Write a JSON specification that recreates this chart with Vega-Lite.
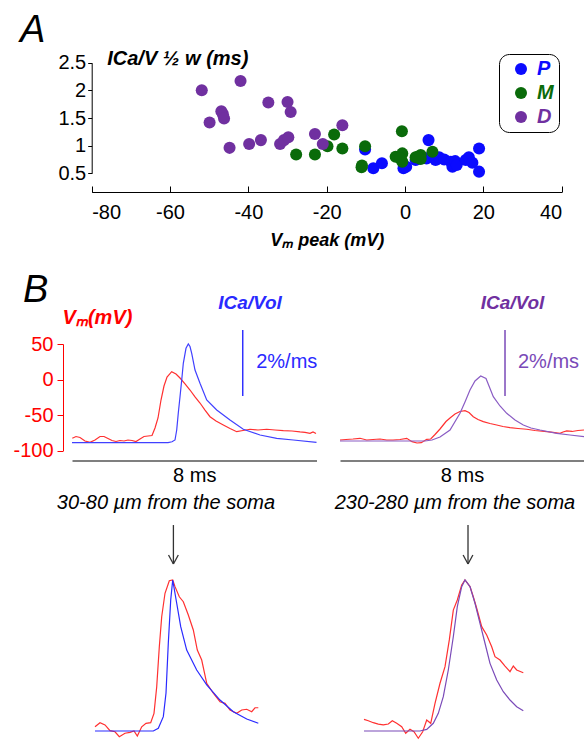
{
  "$schema": "https://vega.github.io/schema/vega-lite/v6.json",
  "background": "white",
  "width": 584,
  "height": 740,
  "autosize": {"type": "none"},
  "padding": 0,
  "config": {
    "font": "Liberation Sans",
    "view": {"stroke": null},
    "axis": {"grid": false, "labelFont": "Liberation Sans", "titleFont": "Liberation Sans", "labelFontSize": 20, "labelColor": "black", "domainColor": "black", "tickColor": "black"},
    "text": {"font": "Liberation Sans"},
    "legend": {"labelFont": "Liberation Sans"}
  },
  "datasets": {
    "scatter": [
      {"vm": -10.2, "w": 0.93, "region": "P"}, {"vm": -8.1, "w": 0.59, "region": "P"}, {"vm": -5.9, "w": 0.68, "region": "P"},
      {"vm": -0.4, "w": 0.59, "region": "P"}, {"vm": 0.3, "w": 0.62, "region": "P"}, {"vm": 2.7, "w": 0.74, "region": "P"},
      {"vm": 5.5, "w": 0.77, "region": "P"}, {"vm": 6.0, "w": 1.10, "region": "P"}, {"vm": 7.8, "w": 0.74, "region": "P"},
      {"vm": 8.7, "w": 0.79, "region": "P"}, {"vm": 10.0, "w": 0.75, "region": "P"}, {"vm": 11.7, "w": 0.71, "region": "P"},
      {"vm": 12.1, "w": 0.62, "region": "P"}, {"vm": 12.8, "w": 0.72, "region": "P"}, {"vm": 13.2, "w": 0.65, "region": "P"},
      {"vm": 15.5, "w": 0.74, "region": "P"}, {"vm": 16.3, "w": 0.79, "region": "P"}, {"vm": 17.2, "w": 0.69, "region": "P"},
      {"vm": 18.9, "w": 0.95, "region": "P"}, {"vm": 18.9, "w": 0.53, "region": "P"},
      {"vm": -27.8, "w": 0.84, "region": "M"}, {"vm": -23.0, "w": 0.84, "region": "M"}, {"vm": -19.8, "w": 0.99, "region": "M"},
      {"vm": -18.1, "w": 1.20, "region": "M"}, {"vm": -16.0, "w": 0.95, "region": "M"}, {"vm": -10.2, "w": 0.99, "region": "M"},
      {"vm": -11.1, "w": 0.61, "region": "M"}, {"vm": -11.0, "w": 0.64, "region": "M"}, {"vm": -0.8, "w": 1.26, "region": "M"},
      {"vm": -2.4, "w": 0.80, "region": "M"}, {"vm": -0.7, "w": 0.86, "region": "M"}, {"vm": -0.7, "w": 0.71, "region": "M"},
      {"vm": -1.2, "w": 0.77, "region": "M"}, {"vm": 2.7, "w": 0.79, "region": "M"}, {"vm": 4.0, "w": 0.83, "region": "M"},
      {"vm": 4.0, "w": 0.76, "region": "M"}, {"vm": 7.0, "w": 0.89, "region": "M"}, {"vm": 3.2, "w": 0.80, "region": "M"},
      {"vm": -51.9, "w": 2.00, "region": "D"}, {"vm": -42.0, "w": 2.17, "region": "D"}, {"vm": -49.9, "w": 1.42, "region": "D"},
      {"vm": -46.9, "w": 1.62, "region": "D"}, {"vm": -46.5, "w": 1.57, "region": "D"}, {"vm": -46.2, "w": 1.49, "region": "D"},
      {"vm": -44.8, "w": 0.96, "region": "D"}, {"vm": -39.8, "w": 1.03, "region": "D"}, {"vm": -36.8, "w": 1.10, "region": "D"},
      {"vm": -34.9, "w": 1.78, "region": "D"}, {"vm": -30.0, "w": 1.79, "region": "D"}, {"vm": -29.2, "w": 1.61, "region": "D"},
      {"vm": -31.9, "w": 1.03, "region": "D"}, {"vm": -30.9, "w": 1.10, "region": "D"}, {"vm": -29.8, "w": 1.15, "region": "D"},
      {"vm": -23.0, "w": 1.21, "region": "D"}, {"vm": -21.0, "w": 1.03, "region": "D"}, {"vm": -16.0, "w": 1.37, "region": "D"}
    ],
    "label_a": [{"vm": -98.3, "w": 2.874, "label": "A"}],
    "label_b": [{"t": -1.603, "v": 109.2, "label": "B"}],
    "vm_left": [
      {"t": 0.01, "v": -82.8}, {"t": 0.131, "v": -80.3}, {"t": 0.262, "v": -81.7}, {"t": 0.425, "v": -86.6}, {"t": 0.589, "v": -88.5},
      {"t": 0.753, "v": -85.2}, {"t": 0.916, "v": -80.3}, {"t": 1.047, "v": -80.3}, {"t": 1.178, "v": -83.1}, {"t": 1.309, "v": -85.9},
      {"t": 1.44, "v": -87.3}, {"t": 1.571, "v": -85.9}, {"t": 1.702, "v": -86.6}, {"t": 1.832, "v": -85.2}, {"t": 1.963, "v": -85.9},
      {"t": 2.094, "v": -87.3}, {"t": 2.225, "v": -83.8}, {"t": 2.356, "v": -80.3}, {"t": 2.487, "v": -79.6}, {"t": 2.618, "v": -78.9},
      {"t": 2.716, "v": -68.3}, {"t": 2.814, "v": -54.2}, {"t": 2.912, "v": -28.9}, {"t": 3.01, "v": -9.2}, {"t": 3.109, "v": 3.5},
      {"t": 3.262, "v": 11.0}, {"t": 3.403, "v": 7.7}, {"t": 3.534, "v": 2.1}, {"t": 3.698, "v": -6.3}, {"t": 3.861, "v": -14.8},
      {"t": 4.025, "v": -24.6}, {"t": 4.188, "v": -33.1}, {"t": 4.352, "v": -43.0}, {"t": 4.516, "v": -52.4}, {"t": 4.712, "v": -58.5},
      {"t": 4.951, "v": -64.1}, {"t": 5.17, "v": -69.0}, {"t": 5.389, "v": -73.5}, {"t": 5.596, "v": -71.8}, {"t": 5.825, "v": -70.1},
      {"t": 6.086, "v": -71.1}, {"t": 6.371, "v": -70.1}, {"t": 6.643, "v": -71.1}, {"t": 6.914, "v": -72.1}, {"t": 7.199, "v": -72.5},
      {"t": 7.461, "v": -73.9}, {"t": 7.624, "v": -74.6}, {"t": 7.788, "v": -75.8}, {"t": 7.886, "v": -73.9}, {"t": 7.984, "v": -76.1}
    ],
    "ica_left": [
      {"t": 0, "i": 0}, {"t": 3.141, "i": 0}, {"t": 3.272, "i": 0.027}, {"t": 3.37, "i": 0.082}, {"t": 3.426, "i": 0.385},
      {"t": 3.478, "i": 0.9}, {"t": 3.534, "i": 1.394}, {"t": 3.59, "i": 1.9}, {"t": 3.642, "i": 2.406}, {"t": 3.73, "i": 2.861},
      {"t": 3.806, "i": 2.991}, {"t": 3.861, "i": 2.915}, {"t": 3.917, "i": 2.709}, {"t": 4.025, "i": 2.203}, {"t": 4.188, "i": 1.8},
      {"t": 4.408, "i": 1.294}, {"t": 4.735, "i": 0.991}, {"t": 5.17, "i": 0.688}, {"t": 5.605, "i": 0.406}, {"t": 6.152, "i": 0.233},
      {"t": 6.698, "i": 0.133}, {"t": 7.242, "i": 0.082}, {"t": 8.0, "i": 0.012}
    ],
    "vm_right": [
      {"t": 0, "v": -85.2}, {"t": 0.197, "v": -84.5}, {"t": 0.426, "v": -83.8}, {"t": 0.656, "v": -82.8}, {"t": 0.875, "v": -85.2},
      {"t": 1.082, "v": -84.5}, {"t": 1.311, "v": -83.8}, {"t": 1.531, "v": -85.2}, {"t": 1.738, "v": -85.2}, {"t": 1.967, "v": -84.5},
      {"t": 2.187, "v": -82.8}, {"t": 2.361, "v": -87.6}, {"t": 2.525, "v": -89.4}, {"t": 2.666, "v": -89.0}, {"t": 2.843, "v": -84.2},
      {"t": 2.974, "v": -83.8}, {"t": 3.115, "v": -77.5}, {"t": 3.279, "v": -69.7}, {"t": 3.475, "v": -59.2}, {"t": 3.607, "v": -54.2},
      {"t": 3.77, "v": -48.6}, {"t": 3.934, "v": -45.1}, {"t": 4.098, "v": -43.9}, {"t": 4.23, "v": -46.5}, {"t": 4.37, "v": -52.4},
      {"t": 4.525, "v": -56.3}, {"t": 4.698, "v": -59.4}, {"t": 4.918, "v": -62.0}, {"t": 5.138, "v": -64.1}, {"t": 5.344, "v": -66.2},
      {"t": 5.574, "v": -67.9}, {"t": 5.836, "v": -69.0}, {"t": 6.121, "v": -70.1}, {"t": 6.393, "v": -71.8}, {"t": 6.777, "v": -73.5},
      {"t": 6.984, "v": -74.6}, {"t": 7.213, "v": -75.8}, {"t": 7.311, "v": -73.9}, {"t": 7.433, "v": -72.5}, {"t": 7.607, "v": -73.2},
      {"t": 7.803, "v": -71.8}, {"t": 8.0, "v": -71.1}
    ],
    "ica_right": [
      {"t": 0, "i": 0}, {"t": 2.787, "i": 0}, {"t": 3.016, "i": 0.03}, {"t": 3.279, "i": 0.121}, {"t": 3.607, "i": 0.333},
      {"t": 3.934, "i": 0.839}, {"t": 4.098, "i": 1.182}, {"t": 4.262, "i": 1.545}, {"t": 4.426, "i": 1.818}, {"t": 4.613, "i": 1.97},
      {"t": 4.787, "i": 1.894}, {"t": 5.026, "i": 1.342}, {"t": 5.246, "i": 1.061}, {"t": 5.466, "i": 0.839}, {"t": 5.738, "i": 0.636},
      {"t": 6.01, "i": 0.485}, {"t": 6.262, "i": 0.394}, {"t": 6.557, "i": 0.333}, {"t": 7.105, "i": 0.233}, {"t": 7.541, "i": 0.182},
      {"t": 8.0, "i": 0.13}
    ],
    "bar_left": [{"t": 5.586, "i": 1.415, "i2": 3.415}],
    "bar_right": [{"t": 5.41, "i": 1.364, "i2": 3.364}],
    "unit_left": [{"t": 7.026, "i": 2.455, "label": "2%/ms"}],
    "unit_right": [{"t": 5.836, "i": 2.403, "label": "2%/ms"}],
    "name_left": [{"t": 5.825, "i": 4.233, "label": "ICa/Vol"}],
    "name_right": [{"t": 5.656, "i": 4.18, "label": "ICa/Vol"}],
    "bl_vm": [
      {"t": 0.753, "n": 0.028}, {"t": 0.916, "n": 0.055}, {"t": 1.08, "n": 0.04}, {"t": 1.243, "n": 0.002}, {"t": 1.407, "n": -0.005},
      {"t": 1.548, "n": -0.038}, {"t": 1.734, "n": -0.015}, {"t": 1.898, "n": -0.009}, {"t": 2.029, "n": 0}, {"t": 2.137, "n": -0.033},
      {"t": 2.281, "n": 0.028}, {"t": 2.421, "n": 0.051}, {"t": 2.575, "n": 0.055}, {"t": 2.683, "n": 0.117}, {"t": 2.772, "n": 0.293},
      {"t": 2.857, "n": 0.558}, {"t": 2.935, "n": 0.757}, {"t": 3.043, "n": 0.912}, {"t": 3.184, "n": 0.995}, {"t": 3.295, "n": 1.0},
      {"t": 3.37, "n": 0.956}, {"t": 3.511, "n": 0.889}, {"t": 3.642, "n": 0.856}, {"t": 3.806, "n": 0.768}, {"t": 3.969, "n": 0.669},
      {"t": 4.1, "n": 0.536}, {"t": 4.244, "n": 0.47}, {"t": 4.408, "n": 0.316}, {"t": 4.624, "n": 0.25}, {"t": 4.843, "n": 0.194},
      {"t": 5.007, "n": 0.183}, {"t": 5.17, "n": 0.139}, {"t": 5.389, "n": 0.117}, {"t": 5.553, "n": 0.139}, {"t": 5.717, "n": 0.144},
      {"t": 5.88, "n": 0.128}, {"t": 5.988, "n": 0.154}, {"t": 6.096, "n": 0.154}
    ],
    "bl_ica": [
      {"t": 0.753, "n": 0}, {"t": 2.66, "n": 0}, {"t": 2.824, "n": 0.018}, {"t": 2.988, "n": 0.095}, {"t": 3.076, "n": 0.252},
      {"t": 3.151, "n": 0.581}, {"t": 3.23, "n": 0.868}, {"t": 3.295, "n": 1.0}, {"t": 3.426, "n": 0.846}, {"t": 3.557, "n": 0.691},
      {"t": 3.753, "n": 0.536}, {"t": 4.08, "n": 0.404}, {"t": 4.408, "n": 0.305}, {"t": 4.843, "n": 0.205}, {"t": 5.278, "n": 0.128},
      {"t": 5.717, "n": 0.079}, {"t": 6.096, "n": 0.051}
    ],
    "br_vm": [
      {"t": 0.787, "n": 0.077}, {"t": 0.928, "n": 0.068}, {"t": 1.092, "n": 0.055}, {"t": 1.256, "n": 0.046}, {"t": 1.42, "n": 0.04},
      {"t": 1.584, "n": 0.046}, {"t": 1.715, "n": 0.068}, {"t": 1.859, "n": 0.051}, {"t": 2.023, "n": 0.028}, {"t": 2.154, "n": -0.015},
      {"t": 2.295, "n": 0.011}, {"t": 2.426, "n": -0.005}, {"t": 2.567, "n": -0.048}, {"t": 2.711, "n": -0.005}, {"t": 2.843, "n": 0.073},
      {"t": 2.974, "n": 0.051}, {"t": 3.115, "n": 0.183}, {"t": 3.279, "n": 0.316}, {"t": 3.443, "n": 0.426}, {"t": 3.584, "n": 0.603},
      {"t": 3.715, "n": 0.801}, {"t": 3.846, "n": 0.868}, {"t": 3.99, "n": 0.967}, {"t": 4.098, "n": 1.0}, {"t": 4.262, "n": 0.956},
      {"t": 4.37, "n": 0.889}, {"t": 4.482, "n": 0.813}, {"t": 4.646, "n": 0.691}, {"t": 4.81, "n": 0.636}, {"t": 4.974, "n": 0.558},
      {"t": 5.082, "n": 0.492}, {"t": 5.246, "n": 0.47}, {"t": 5.41, "n": 0.43}, {"t": 5.574, "n": 0.393}, {"t": 5.682, "n": 0.43},
      {"t": 5.793, "n": 0.404}, {"t": 6.01, "n": 0.386}
    ],
    "br_ica": [
      {"t": 0.787, "n": 0}, {"t": 2.623, "n": 0}, {"t": 2.843, "n": 0.011}, {"t": 3.059, "n": 0.051}, {"t": 3.223, "n": 0.117},
      {"t": 3.387, "n": 0.227}, {"t": 3.551, "n": 0.404}, {"t": 3.715, "n": 0.624}, {"t": 3.846, "n": 0.823}, {"t": 3.99, "n": 0.956},
      {"t": 4.098, "n": 1.0}, {"t": 4.262, "n": 0.956}, {"t": 4.426, "n": 0.846}, {"t": 4.59, "n": 0.713}, {"t": 4.754, "n": 0.581},
      {"t": 4.918, "n": 0.448}, {"t": 5.138, "n": 0.338}, {"t": 5.354, "n": 0.26}, {"t": 5.574, "n": 0.205}, {"t": 5.793, "n": 0.161},
      {"t": 6.01, "n": 0.134}
    ],
    "arrow_left": [
      {"t": 3.318, "t2": 3.318, "n": 1.364, "n2": 1.106},
      {"t": 3.158, "t2": 3.318, "n": 1.166, "n2": 1.106},
      {"t": 3.478, "t2": 3.318, "n": 1.166, "n2": 1.106}
    ],
    "arrow_right": [
      {"t": 4.197, "t2": 4.197, "n": 1.364, "n2": 1.106},
      {"t": 4.037, "t2": 4.197, "n": 1.166, "n2": 1.106},
      {"t": 4.357, "t2": 4.197, "n": 1.166, "n2": 1.106}
    ],
    "soma_left": [{"t": 3.076, "n": 1.47, "label": "30-80 µm from the soma"}],
    "soma_right": [{"t": 3.77, "n": 1.47, "label": "230-280 µm from the soma"}]
  },
  "layer": [
    {
      "data": {"name": "scatter"},
      "mark": {"type": "point", "filled": true, "size": 145, "opacity": 1},
      "encoding": {
        "x": {
          "field": "vm", "type": "quantitative",
          "scale": {"domain": [-80, 40], "range": [91.7, 561.7], "nice": false, "zero": false},
          "axis": {"orient": "bottom", "offset": -548, "values": [-80, -60, -40, -20, 0, 20, 40], "labelExpr": "'' + datum.value",
                   "tickSize": -6, "labelPadding": 16,
                   "title": "Vₘ peak (mV)", "titleFontSize": 18, "titleFontStyle": "italic", "titleFontWeight": "bold", "titlePadding": 9}
        },
        "y": {
          "field": "w", "type": "quantitative",
          "scale": {"domain": [0.5, 2.5], "range": [173.3, 62.7], "nice": false, "zero": false},
          "axis": {"orient": "left", "offset": -91.7, "values": [0.5, 1, 1.5, 2, 2.5], "labelExpr": "'' + datum.value", "tickSize": 4, "labelPadding": 2,
                   "title": "ICa/V ½ w (ms)", "titleAngle": 0, "titleAlign": "left", "titleBaseline": "alphabetic", "titleX": 15, "titleY": 64.5,
                   "titleFontSize": 20, "titleFontStyle": "italic", "titleFontWeight": "bold"}
        },
        "color": {
          "field": "region", "type": "nominal",
          "scale": {"domain": ["P", "M", "D"], "range": ["#0b0bff", "#0a6b0a", "#7030a0"]},
          "legend": {"orient": "none", "legendX": 499, "legendY": 54, "title": null, "strokeColor": "black", "cornerRadius": 10,
                     "fillColor": "white", "padding": 5, "symbolOffset": 7, "symbolSize": 145, "symbolType": "circle", "rowPadding": 4,
                     "labelFontSize": 20, "labelFontWeight": "bold", "labelFontStyle": "italic", "labelOffset": 6,
                     "labelExpr": "datum.label + '   '",
                     "labelColor": {"expr": "datum.value === 'P' ? '#0b0bff' : datum.value === 'M' ? '#0a6b0a' : '#7030a0'"}}
        }
      }
    },
    {
      "data": {"name": "label_a"},
      "mark": {"type": "text", "fontSize": 38, "fontStyle": "italic", "align": "left", "baseline": "alphabetic", "color": "black"},
      "encoding": {
        "x": {"field": "vm", "type": "quantitative", "scale": {"domain": [-80, 40], "range": [91.7, 561.7], "nice": false, "zero": false}, "axis": null},
        "y": {"field": "w", "type": "quantitative", "scale": {"domain": [0.5, 2.5], "range": [173.3, 62.7], "nice": false, "zero": false}, "axis": null},
        "text": {"field": "label"}
      }
    },
    {
      "data": {"name": "vm_left"},
      "mark": {"type": "line", "color": "#ff3030", "strokeWidth": 1.2},
      "encoding": {
        "x": {"field": "t", "type": "quantitative", "scale": {"domain": [0, 8], "range": [72, 316.5], "nice": false, "zero": false},
              "axis": {"orient": "bottom", "offset": -279.5, "domainColor": "#555555", "domainWidth": 1.5, "ticks": false, "labels": false,
                       "title": "8 ms", "titleFontSize": 20, "titleFontWeight": "normal", "titlePadding": 5}},
        "y": {"field": "v", "type": "quantitative", "scale": {"domain": [-100, 50], "range": [450.5, 344], "nice": false, "zero": false},
              "axis": {"orient": "left", "offset": -63, "values": [-100, -50, 0, 50], "labelExpr": "'' + datum.value", "tickSize": 6, "labelPadding": 4,
                       "labelColor": "#ff0000", "tickColor": "#ff0000", "domainColor": "#ff0000",
                       "title": "Vₘ(mV)", "titleColor": "#ff0000", "titleAngle": 0, "titleAlign": "center", "titleBaseline": "alphabetic",
                       "titleX": 34, "titleY": 323, "titleFontSize": 20, "titleFontStyle": "italic", "titleFontWeight": "bold"}}
      }
    },
    {
      "data": {"name": "label_b"},
      "mark": {"type": "text", "fontSize": 38, "fontStyle": "italic", "align": "left", "baseline": "alphabetic", "color": "black"},
      "encoding": {
        "x": {"field": "t", "type": "quantitative", "scale": {"domain": [0, 8], "range": [72, 316.5], "nice": false, "zero": false}, "axis": null},
        "y": {"field": "v", "type": "quantitative", "scale": {"domain": [-100, 50], "range": [450.5, 344], "nice": false, "zero": false}, "axis": null},
        "text": {"field": "label"}
      }
    },
    {
      "layer": [
        {
          "data": {"name": "ica_left"},
          "mark": {"type": "line", "color": "#4040ff", "strokeWidth": 1.2},
          "encoding": {
            "x": {"field": "t", "type": "quantitative", "scale": {"domain": [0, 8], "range": [72, 316.5], "nice": false, "zero": false}, "axis": null},
            "y": {"field": "i", "type": "quantitative", "scale": {"domain": [0, 3], "range": [442.7, 343.7], "nice": false, "zero": false}, "axis": null}
          }
        },
        {
          "data": {"name": "bar_left"},
          "mark": {"type": "rule", "color": "#3030ff", "strokeWidth": 1.5},
          "encoding": {
            "x": {"field": "t", "type": "quantitative", "axis": null},
            "y": {"field": "i", "type": "quantitative", "axis": null},
            "y2": {"field": "i2"}
          }
        },
        {
          "data": {"name": "unit_left"},
          "mark": {"type": "text", "color": "#2a2aff", "fontSize": 20, "align": "center", "baseline": "middle"},
          "encoding": {
            "x": {"field": "t", "type": "quantitative", "axis": null},
            "y": {"field": "i", "type": "quantitative", "axis": null},
            "text": {"field": "label"}
          }
        },
        {
          "data": {"name": "name_left"},
          "mark": {"type": "text", "color": "#2a2aff", "fontSize": 19, "fontStyle": "italic", "fontWeight": "bold", "align": "center", "baseline": "middle"},
          "encoding": {
            "x": {"field": "t", "type": "quantitative", "axis": null},
            "y": {"field": "i", "type": "quantitative", "axis": null},
            "text": {"field": "label"}
          }
        }
      ]
    },
    {
      "data": {"name": "vm_right"},
      "mark": {"type": "line", "color": "#ff3030", "strokeWidth": 1.2},
      "encoding": {
        "x": {"field": "t", "type": "quantitative", "scale": {"domain": [0, 8], "range": [340, 584], "nice": false, "zero": false},
              "axis": {"orient": "bottom", "offset": -279.5, "domainColor": "#555555", "domainWidth": 1.5, "ticks": false, "labels": false,
                       "title": "8 ms", "titleFontSize": 20, "titleFontWeight": "normal", "titlePadding": 5}},
        "y": {"field": "v", "type": "quantitative", "scale": {"domain": [-100, 50], "range": [450.5, 344], "nice": false, "zero": false}, "axis": null}
      }
    },
    {
      "layer": [
        {
          "data": {"name": "ica_right"},
          "mark": {"type": "line", "color": "#8a5cc4", "strokeWidth": 1.2},
          "encoding": {
            "x": {"field": "t", "type": "quantitative", "scale": {"domain": [0, 8], "range": [340, 584], "nice": false, "zero": false}, "axis": null},
            "y": {"field": "i", "type": "quantitative", "scale": {"domain": [0, 3], "range": [441, 342], "nice": false, "zero": false}, "axis": null}
          }
        },
        {
          "data": {"name": "bar_right"},
          "mark": {"type": "rule", "color": "#7a4ab8", "strokeWidth": 1.5},
          "encoding": {
            "x": {"field": "t", "type": "quantitative", "axis": null},
            "y": {"field": "i", "type": "quantitative", "axis": null},
            "y2": {"field": "i2"}
          }
        },
        {
          "data": {"name": "unit_right"},
          "mark": {"type": "text", "color": "#7a4ab8", "fontSize": 20, "align": "left", "baseline": "middle"},
          "encoding": {
            "x": {"field": "t", "type": "quantitative", "axis": null},
            "y": {"field": "i", "type": "quantitative", "axis": null},
            "text": {"field": "label"}
          }
        },
        {
          "data": {"name": "name_right"},
          "mark": {"type": "text", "color": "#7030a0", "fontSize": 19, "fontStyle": "italic", "fontWeight": "bold", "align": "center", "baseline": "middle"},
          "encoding": {
            "x": {"field": "t", "type": "quantitative", "axis": null},
            "y": {"field": "i", "type": "quantitative", "axis": null},
            "text": {"field": "label"}
          }
        }
      ]
    },
    {
      "layer": [
        {
          "data": {"name": "bl_vm"},
          "mark": {"type": "line", "color": "#ff3030", "strokeWidth": 1.2},
          "encoding": {
            "x": {"field": "t", "type": "quantitative", "scale": {"domain": [0, 8], "range": [72, 316.5], "nice": false, "zero": false}, "axis": null},
            "y": {"field": "n", "type": "quantitative", "scale": {"domain": [0, 1], "range": [731, 580], "nice": false, "zero": false}, "axis": null}
          }
        },
        {
          "data": {"name": "bl_ica"},
          "mark": {"type": "line", "color": "#2a2aff", "strokeWidth": 1.2},
          "encoding": {
            "x": {"field": "t", "type": "quantitative", "axis": null},
            "y": {"field": "n", "type": "quantitative", "axis": null}
          }
        },
        {
          "data": {"name": "arrow_left"},
          "mark": {"type": "rule", "color": "#333333", "strokeWidth": 1.3},
          "encoding": {
            "x": {"field": "t", "type": "quantitative", "axis": null},
            "x2": {"field": "t2"},
            "y": {"field": "n", "type": "quantitative", "axis": null},
            "y2": {"field": "n2"}
          }
        },
        {
          "data": {"name": "soma_left"},
          "mark": {"type": "text", "color": "black", "fontSize": 20, "fontStyle": "italic", "align": "center", "baseline": "alphabetic"},
          "encoding": {
            "x": {"field": "t", "type": "quantitative", "axis": null},
            "y": {"field": "n", "type": "quantitative", "axis": null},
            "text": {"field": "label"}
          }
        }
      ]
    },
    {
      "layer": [
        {
          "data": {"name": "br_vm"},
          "mark": {"type": "line", "color": "#ff3030", "strokeWidth": 1.2},
          "encoding": {
            "x": {"field": "t", "type": "quantitative", "scale": {"domain": [0, 8], "range": [340, 584], "nice": false, "zero": false}, "axis": null},
            "y": {"field": "n", "type": "quantitative", "scale": {"domain": [0, 1], "range": [731, 580], "nice": false, "zero": false}, "axis": null}
          }
        },
        {
          "data": {"name": "br_ica"},
          "mark": {"type": "line", "color": "#7a4ab8", "strokeWidth": 1.2},
          "encoding": {
            "x": {"field": "t", "type": "quantitative", "axis": null},
            "y": {"field": "n", "type": "quantitative", "axis": null}
          }
        },
        {
          "data": {"name": "arrow_right"},
          "mark": {"type": "rule", "color": "#333333", "strokeWidth": 1.3},
          "encoding": {
            "x": {"field": "t", "type": "quantitative", "axis": null},
            "x2": {"field": "t2"},
            "y": {"field": "n", "type": "quantitative", "axis": null},
            "y2": {"field": "n2"}
          }
        },
        {
          "data": {"name": "soma_right"},
          "mark": {"type": "text", "color": "black", "fontSize": 20, "fontStyle": "italic", "align": "center", "baseline": "alphabetic"},
          "encoding": {
            "x": {"field": "t", "type": "quantitative", "axis": null},
            "y": {"field": "n", "type": "quantitative", "axis": null},
            "text": {"field": "label"}
          }
        }
      ]
    }
  ],
  "resolve": {"scale": {"x": "independent", "y": "independent"}, "axis": {"x": "independent", "y": "independent"}}
}
